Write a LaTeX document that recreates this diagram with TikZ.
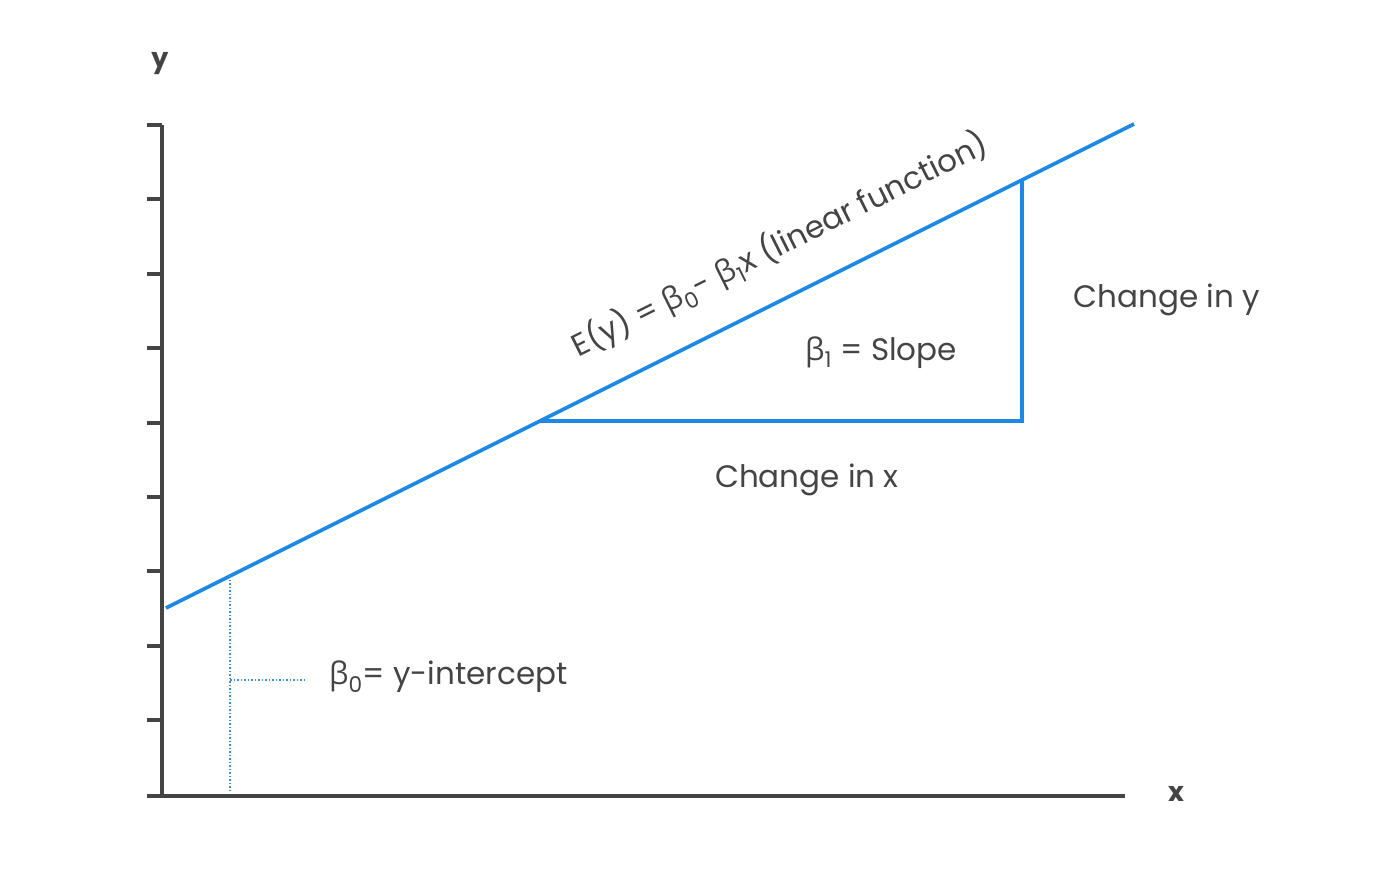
\documentclass[tikz,border=0pt]{standalone}
\usepackage{fontspec}
\setmainfont{Poppins}
\newfontfamily\grk{Open Sans}
\usepackage{xcolor}
\usetikzlibrary{positioning, calc}
\definecolor{lblue}{HTML}{1E88E5}
\definecolor{dblue}{HTML}{3A8FD0}
\definecolor{dgray}{HTML}{444444}
\newcommand{\bsub}[1]{{\grk β}\textsubscript{#1}}

\begin{document}
\begin{tikzpicture}[
  x=1pt, y=-1pt,
  axis/.style={line width=4pt, draw=dgray},
  fitline/.style={line width=3.6pt, draw=lblue},
  guide/.style={line width=1.5pt, draw=dblue, dotted},
  lbl/.style={text=dgray, inner sep=0pt, font=\fontsize{31}{36}\selectfont},
  axlbl/.style={text=dgray, inner sep=0pt, font=\fontsize{27}{32}\selectfont\bfseries},
]
  \useasboundingbox (0,0) rectangle (1396,877);

  % axes and ticks
  \coordinate (ytop) at (162,125);
  \coordinate (orig) at (162,796);
  \coordinate (xend) at (1125,796);
  \draw[axis] (147,796) -- (xend);
  \draw[axis] (ytop) -- (orig);
  \foreach \t in {0,...,8}
    \draw[axis] (147,125+74.4*\t) -- (162,125+74.4*\t);
  \node[axlbl] (ylab) at (160,64) {y};
  \node[axlbl] (xlab) at (1176,794) {x};

  % regression line and slope triangle
  \coordinate (lstart) at (166,608);
  \coordinate (lend) at (1134,124);
  \coordinate (run0) at (540,421);
  \coordinate (run1) at (1022,421);
  \coordinate (rise1) at (1022,180);
  \draw[fitline] (lstart) -- (lend);
  \draw[fitline, line join=miter] (run0) -- (run1) -- (rise1);

  \node[lbl, rotate=26.57] (eq) at (780,245)
    {E(y) = \bsub{0}- \bsub{1}x (linear function)};
  \node[lbl] (slope) at (881,353) {\bsub{1} = Slope};
  \node[lbl] (dx) at (807,480) {Change in x};
  \node[lbl] (dy) at (1167,300) {Change in y};

  % intercept marker
  \coordinate (icut) at (230,576);
  \coordinate (ibase) at (230,792);
  \coordinate (imid) at (230,680);
  \coordinate (itip) at (305,680);
  \draw[guide] (icut) -- (ibase);
  \draw[guide] (imid) -- (itip);
  \node[lbl, anchor=west] (icpt) at (329,677) {\bsub{0}= y-intercept};
\end{tikzpicture}
\end{document}
